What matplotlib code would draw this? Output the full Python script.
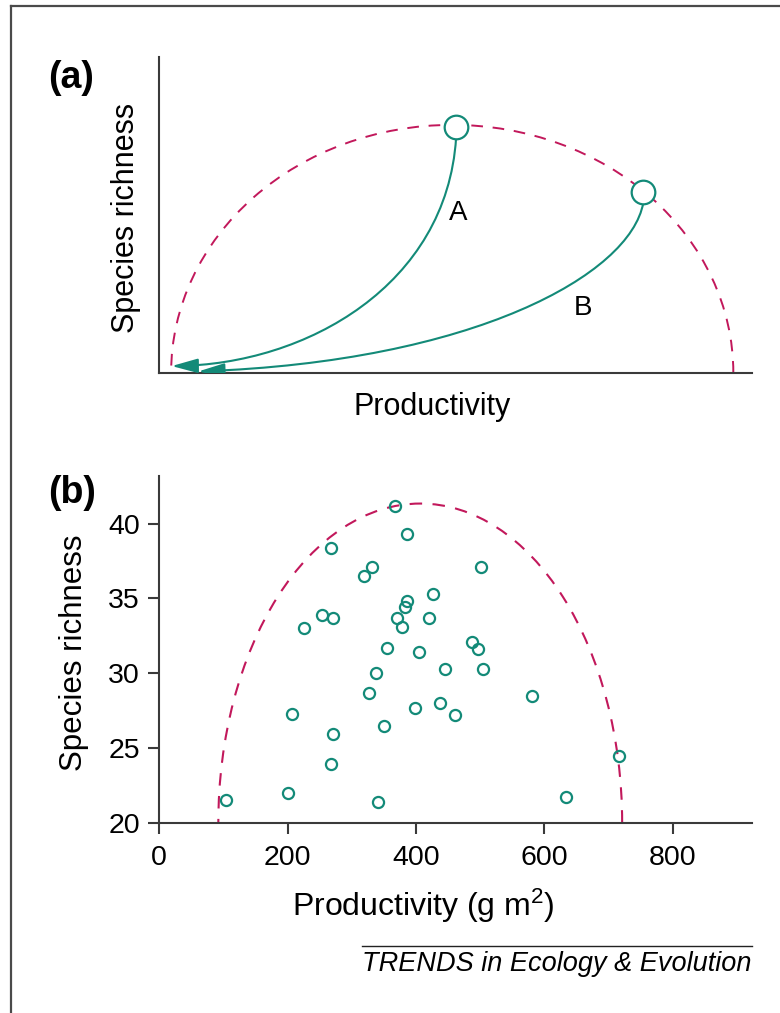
import matplotlib
matplotlib.use("Agg")
import matplotlib.pyplot as plt
from matplotlib.patches import Arc, FancyArrowPatch
from matplotlib.path import Path
from matplotlib.lines import Line2D

plt.rcParams['font.family'] = ['Liberation Sans', 'DejaVu Sans']
plt.rcParams['mathtext.fontset'] = 'custom'
plt.rcParams['mathtext.rm'] = 'Liberation Sans'
plt.rcParams['mathtext.default'] = 'regular'

teal = '#138a78'
crimson = '#c2185b'
axis_col = '#3a3a3a'

# ---- panel (a): conceptual scheme (arbitrary units 0-100) ----
env_a_left, env_a_right, env_a_peak = 2.0, 96.9, 78.5
site_x = [50.1, 81.7]
site_y = [77.9, 57.3]
# trajectories as cubic bezier control points (start, ctrl1, ctrl2, end)
path_a = [(50.1, 74.3), (48.5, 28.0), (25.0, 2.5), (2.1, 2.1)]
path_b = [(81.7, 53.8), (79.5, 31.0), (53.0, 3.5), (6.6, 0.4)]
path_labels = ['A', 'B']
label_x = [50.4, 71.6]
label_y = [50.5, 20.5]

# ---- panel (b): field data ----
productivity = [367, 386, 267, 319, 332, 426, 386, 382, 371, 378, 420, 253,
                270, 226, 354, 404, 501, 487, 496, 445, 338, 326, 399, 438,
                460, 207, 350, 270, 267, 104, 200, 340, 505, 581, 716, 633]
richness = [41.2, 39.3, 38.4, 36.5, 37.1, 35.3, 34.8, 34.4, 33.7, 33.1, 33.7, 33.9,
            33.7, 33.0, 31.7, 31.4, 37.1, 32.1, 31.6, 30.3, 30.0, 28.7, 27.7, 28.0,
            27.2, 27.3, 26.5, 25.9, 23.9, 21.5, 22.0, 21.4, 30.3, 28.5, 24.45, 21.7]
env_b_left, env_b_right, env_b_peak = 92, 721, 41.35
xticks_b = [0, 200, 400, 600, 800]
yticks_b = [20, 25, 30, 35, 40]

fig = plt.figure(figsize=(7.8, 10.13), dpi=100)

# outer frame (top and left only visible)
fig.add_artist(Line2D([11/780, 11/780], [0, 1 - 6/1013], color='#4a4a4a', lw=1.6))
fig.add_artist(Line2D([11/780, 1], [1 - 6/1013, 1 - 6/1013], color='#4a4a4a', lw=1.6))

# ---------------- (a) ----------------
ax1 = fig.add_axes([0.2042, 0.6321, 0.7595, 0.3116])
ax1.set_xlim(0, 100)
ax1.set_ylim(0, 100)
for s in ['top', 'right']:
    ax1.spines[s].set_visible(False)
for s in ['left', 'bottom']:
    ax1.spines[s].set_color(axis_col)
    ax1.spines[s].set_linewidth(1.5)
ax1.set_xticks([])
ax1.set_yticks([])

ax1.add_patch(Arc(((env_a_left + env_a_right) / 2, 0), env_a_right - env_a_left,
                  2 * env_a_peak, theta1=0, theta2=180, color=crimson, lw=1.4,
                  linestyle=(0, (6, 5))))

codes = [Path.MOVETO, Path.CURVE4, Path.CURVE4, Path.CURVE4]
for verts in [path_a, path_b]:
    arrow = FancyArrowPatch(path=Path(verts, codes),
                            arrowstyle='-|>,head_length=0.8,head_width=0.22',
                            mutation_scale=20, color=teal, lw=1.5,
                            shrinkA=0, shrinkB=0, zorder=3)
    ax1.add_patch(arrow)
ax1.plot(site_x, site_y, 'o', ms=17, mfc='white', mec=teal, mew=1.6, zorder=5)
for lab, lx, ly in zip(path_labels, label_x, label_y):
    ax1.text(lx, ly, lab, fontsize=20, ha='center', va='center')

ax1.set_ylabel('Species richness', fontsize=22)
ax1.yaxis.set_label_coords(-0.031, 0.49)
ax1.set_xlabel('Productivity', fontsize=22)
ax1.xaxis.set_label_coords(0.46, -0.06)

fig.text(71/780, 1 - 78/1013, '(a)', fontsize=27, fontweight='bold',
         ha='center', va='center')

# ---------------- (b) ----------------
ax2 = fig.add_axes([0.2042, 0.1879, 0.7605, 0.3423])
ax2.set_xlim(0, 924)
ax2.set_ylim(20, 43.2)
for s in ['top', 'right']:
    ax2.spines[s].set_visible(False)
for s in ['left', 'bottom']:
    ax2.spines[s].set_color(axis_col)
    ax2.spines[s].set_linewidth(1.5)
ax2.set_xticks(xticks_b)
ax2.set_yticks(yticks_b)
ax2.tick_params(direction='out', length=8, width=1.5, color=axis_col,
                labelsize=20.5)
ax2.tick_params(axis='x', pad=8)
ax2.tick_params(axis='y', pad=6)

ax2.add_patch(Arc(((env_b_left + env_b_right) / 2, 20), env_b_right - env_b_left,
                  2 * (env_b_peak - 20), theta1=0, theta2=180, color=crimson,
                  lw=1.5, linestyle=(0, (6, 5))))
ax2.plot(productivity, richness, 'o', ms=8, mfc='none', mec=teal, mew=1.6,
         clip_on=False, zorder=4)

ax2.set_ylabel('Species richness', fontsize=22.5)
ax2.yaxis.set_label_coords(-0.118, 0.49)
ax2.set_xlabel('Productivity (g m$^2$)', fontsize=23)
ax2.xaxis.set_label_coords(0.445, -0.185)

fig.text(72/780, 1 - 493/1013, '(b)', fontsize=27, fontweight='bold',
         ha='center', va='center')

# journal footer
fig.add_artist(Line2D([362/780, 752/780], [1 - 946/1013, 1 - 946/1013],
                      color='#222222', lw=1.0))
fig.text(752/780, 1 - 964/1013, 'TRENDS in Ecology & Evolution', fontsize=19.5,
         style='italic', ha='right', va='center')

fig.savefig('out.png', dpi=100, facecolor='white')
